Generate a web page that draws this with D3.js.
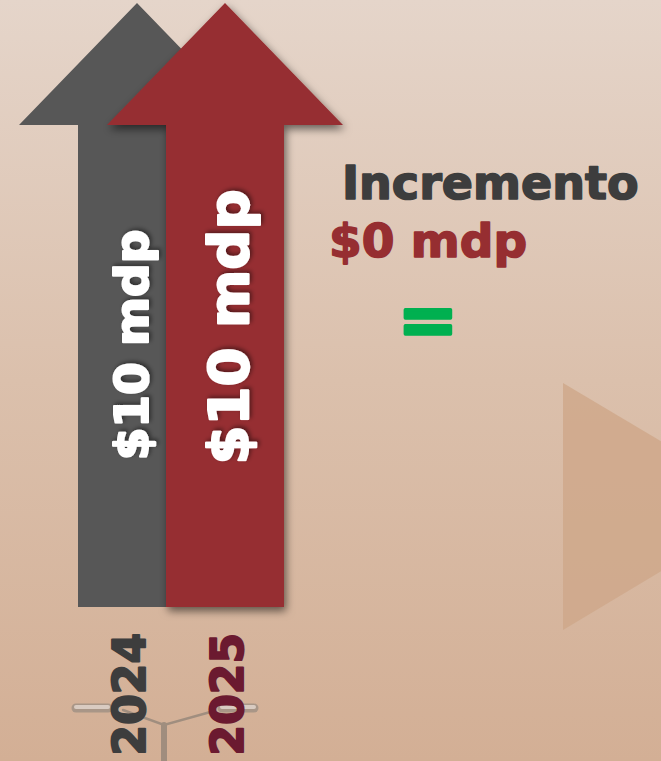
<!DOCTYPE html>
<html>
<head>
<meta charset="utf-8">
<script src="https://cdn.jsdelivr.net/npm/d3@7"></script>
<style>
  html, body { margin: 0; padding: 0; overflow: hidden; }
  svg { display: block; }
</style>
</head>
<body>
<script>
// ---- data ----
const years = ["2024", "2025"];
const values = [10, 10];          // mdp
const valueLabels = ["$10 mdp", "$10 mdp"];
const incrementTitle = "Incremento";
const incrementValue = 0;         // mdp
const incrementSymbol = "=";

// ---- styles ----
const W = 661, H = 761;
const font = "'DejaVu Sans', sans-serif";
const arrowColors = ["#575757", "#962E31"];
const yearColors = ["#3d3d3d", "#6b1a30"];
const labelSizes = [47, 56];
const labelX = [148, 248];
const labelCy = [345, 327];
const yearX = [145, 243];

const svg = d3.select("body").append("svg").attr("width", W).attr("height", H);
const defs = svg.append("defs");

const grad = defs.append("linearGradient").attr("id", "bg").attr("x1", 0).attr("y1", 0).attr("x2", 0).attr("y2", 1);
grad.append("stop").attr("offset", "0%").attr("stop-color", "#e5d5ca");
grad.append("stop").attr("offset", "50%").attr("stop-color", "#dbc0ac");
grad.append("stop").attr("offset", "100%").attr("stop-color", "#d3af95");

const sh = defs.append("filter").attr("id", "shadow").attr("x", "-20%").attr("y", "-20%").attr("width", "140%").attr("height", "140%");
sh.append("feDropShadow").attr("dx", 2).attr("dy", 4).attr("stdDeviation", 4)
  .attr("flood-color", "#000").attr("flood-opacity", 0.55);

const tsh = defs.append("filter").attr("id", "tshadow").attr("x", "-20%").attr("y", "-20%").attr("width", "140%").attr("height", "140%");
tsh.append("feDropShadow").attr("dx", 2).attr("dy", 2).attr("stdDeviation", 2)
  .attr("flood-color", "#000").attr("flood-opacity", 0.45);

svg.append("rect").attr("width", W).attr("height", H).attr("fill", "url(#bg)");

// decorative triangle
svg.append("path")
  .attr("d", "M563,383 L770,506 L563,630 Z")
  .attr("fill", "#cfa88b").attr("opacity", 0.85);

// ---- scales ----
const x = d3.scalePoint().domain(years).range([137, 225]);
const y = d3.scaleLinear().domain([0, 10]).range([607, 3]);
const shaftHalf = 59, headHalf = 118, headH = 122;

function arrowPath(cx, v) {
  const tip = y(v), base = y(0), hb = tip + headH;
  return `M${cx},${tip} L${cx + headHalf},${hb} L${cx + shaftHalf},${hb} L${cx + shaftHalf},${base}` +
         ` L${cx - shaftHalf},${base} L${cx - shaftHalf},${hb} L${cx - headHalf},${hb} Z`;
}

// decorative stand at bottom
const stand = svg.append("g").attr("opacity", 0.6).attr("stroke", "#7f776f").attr("fill", "none").attr("stroke-linecap", "round");
stand.append("line").attr("x1", 76).attr("y1", 708).attr("x2", 108).attr("y2", 708).attr("stroke-width", 9).attr("stroke", "#8d857d");
stand.append("line").attr("x1", 222).attr("y1", 708).attr("x2", 254).attr("y2", 708).attr("stroke-width", 9).attr("stroke", "#8d857d");
stand.append("line").attr("x1", 76).attr("y1", 707).attr("x2", 108).attr("y2", 707).attr("stroke-width", 4).attr("stroke", "#ddd");
stand.append("line").attr("x1", 222).attr("y1", 707).attr("x2", 254).attr("y2", 707).attr("stroke-width", 4).attr("stroke", "#ddd");
stand.append("polyline").attr("points", "123,710 164,725 214,711").attr("stroke-width", 2.5);
stand.append("line").attr("x1", 164).attr("y1", 725).attr("x2", 164).attr("y2", 770).attr("stroke-width", 6);

// year labels
svg.selectAll("text.year").data(years).join("text")
  .attr("class", "year")
  .attr("transform", (d, i) => `translate(${yearX[i]},633) rotate(-90)`)
  .attr("text-anchor", "end")
  .attr("font-family", font).attr("font-weight", "bold").attr("font-size", 44)
  .attr("fill", (d, i) => yearColors[i])
  .attr("stroke", (d, i) => yearColors[i]).attr("stroke-width", 2).attr("stroke-linejoin", "round")
  .text(d => d);

// arrows
const g = svg.selectAll("g.arrow").data(years).join("g").attr("class", "arrow");
g.append("path")
  .attr("d", (d, i) => arrowPath(x(d), values[i]))
  .attr("fill", (d, i) => arrowColors[i])
  .attr("filter", (d, i) => i === 1 ? "url(#shadow)" : null);
g.append("text")
  .attr("transform", (d, i) => `translate(${labelX[i]},${labelCy[i]}) rotate(-90)`)
  .attr("text-anchor", "middle")
  .attr("font-family", font).attr("font-weight", "bold")
  .attr("font-size", (d, i) => labelSizes[i])
  .attr("fill", "#ffffff")
  .attr("stroke", "#ffffff").attr("stroke-width", 2.2).attr("stroke-linejoin", "round")
  .attr("filter", "url(#tshadow)")
  .text((d, i) => valueLabels[i]);

// increment texts
svg.append("text").attr("x", 342).attr("y", 199)
  .attr("font-family", font).attr("font-weight", "bold").attr("font-size", 46)
  .attr("fill", "#3d3d3d").attr("stroke", "#3d3d3d").attr("stroke-width", 1.6).attr("stroke-linejoin", "round")
  .text(incrementTitle);
svg.append("text").attr("x", 329).attr("y", 257)
  .attr("font-family", font).attr("font-weight", "bold").attr("font-size", 47)
  .attr("fill", "#962E31").attr("stroke", "#962E31").attr("stroke-width", 1.6).attr("stroke-linejoin", "round")
  .text(`$${incrementValue} mdp`);
svg.append("text").attr("x", 428).attr("y", 344)
  .attr("text-anchor", "middle")
  .attr("font-family", font).attr("font-weight", "bold").attr("font-size", 72)
  .attr("fill", "#00B050").attr("stroke", "#00B050").attr("stroke-width", 3.5)
  .attr("stroke-linejoin", "round")
  .text(incrementSymbol);
</script>
</body>
</html>
